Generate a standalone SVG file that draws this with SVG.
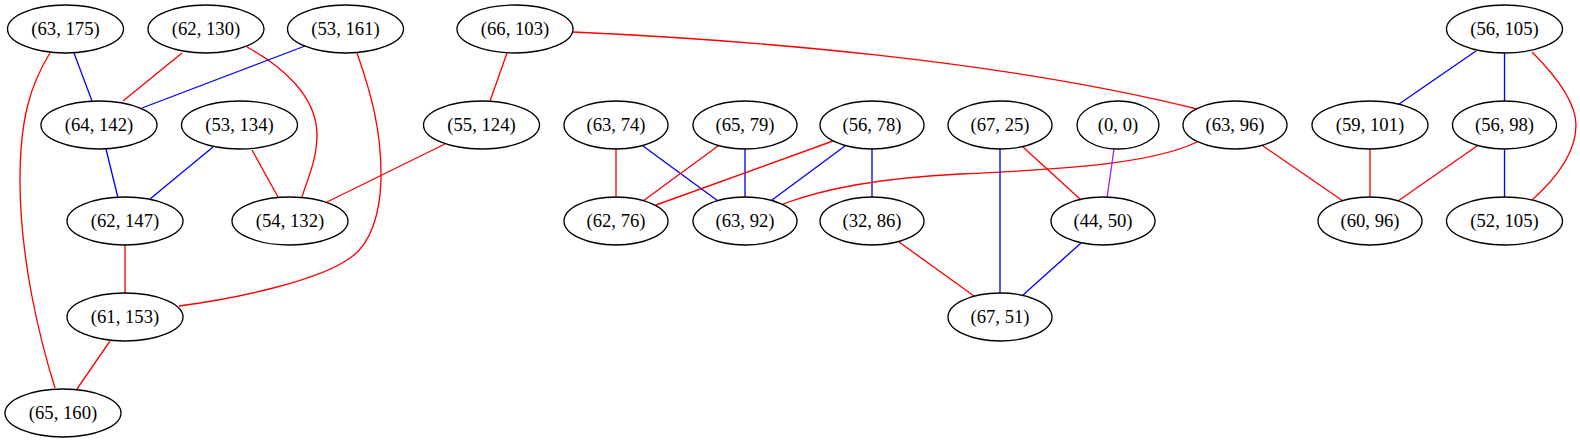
<svg xmlns="http://www.w3.org/2000/svg" width="1580" height="443" viewBox="0 0 1580 443">
<style>
.n ellipse{fill:none;stroke:#000;stroke-width:1.33}
.n text{font-family:"Liberation Serif","Times New Roman",serif;font-size:18.67px;text-anchor:middle;fill:#000}
#edges path{fill:none;stroke-width:1.33}
.r{stroke:#ff0000}.b{stroke:#0000ff}.p{stroke:#a020f0}
</style>
<rect width="1580" height="443" fill="#fff"/>
<g id="edges">
<path class="b" d="M74,53 L92,101"/>
<path class="r" d="M50,53 C30,85 20,120 20,180 C20,260 40,340 55,388"/>
<path class="r" d="M182,53 L123,101"/>
<path class="r" d="M247,47 C280,65 317,95 317,135 C317,160 307,180 302,197"/>
<path class="b" d="M305,46 L142,108"/>
<path class="r" d="M357,53 C370,90 382,130 381,180 C380,215 370,245 350,258 C320,280 240,298 179,306"/>
<path class="b" d="M106,149 L118,198"/>
<path class="b" d="M213,147 L150,199"/>
<path class="r" d="M252,150 L278,197"/>
<path class="r" d="M125,245 L125,293"/>
<path class="r" d="M110,341 L77,389"/>
<path class="r" d="M445,144 L327,202"/>
<path class="r" d="M507,53 L490,101"/>
<path class="r" d="M573,32 C750,40 1000,60 1197,109"/>
<path class="r" d="M616,149 L616,197"/>
<path class="b" d="M643,146 L718,201"/>
<path class="r" d="M718,146 L643,201"/>
<path class="b" d="M745,149 L745,197"/>
<path class="r" d="M833,141 L656,205"/>
<path class="b" d="M845,146 L772,200"/>
<path class="b" d="M872,149 L872,197"/>
<path class="r" d="M1197,142 C1150,165 1050,170 960,174 C880,178 820,190 783,204"/>
<path class="r" d="M899,242 L974,296"/>
<path class="b" d="M1000,149 L1000,293"/>
<path class="r" d="M1023,147 L1081,200"/>
<path class="p" d="M1114,149 L1107,198"/>
<path class="b" d="M1081,243 L1023,295"/>
<path class="r" d="M1263,146 L1343,201"/>
<path class="r" d="M1370,149 L1370,197"/>
<path class="r" d="M1477,146 L1398,201"/>
<path class="b" d="M1476,51 L1399,104"/>
<path class="b" d="M1504.5,53 L1504.5,101"/>
<path class="b" d="M1504.5,149 L1504.5,197"/>
<path class="r" d="M1532,52 C1560,80 1576,105 1576,125 C1576,150 1560,175 1532,200"/>
</g>
<g id="n63_175" class="n"><ellipse cx="65.5" cy="29" rx="58" ry="24"/><text x="65.5" y="35">(63, 175)</text></g>
<g id="n62_130" class="n"><ellipse cx="206" cy="29" rx="58" ry="24"/><text x="206" y="35">(62, 130)</text></g>
<g id="n53_161" class="n"><ellipse cx="345.5" cy="29" rx="58" ry="24"/><text x="345.5" y="35">(53, 161)</text></g>
<g id="n66_103" class="n"><ellipse cx="515" cy="29" rx="58" ry="24"/><text x="515" y="35">(66, 103)</text></g>
<g id="n56_105" class="n"><ellipse cx="1504.5" cy="29" rx="58" ry="24"/><text x="1504.5" y="35">(56, 105)</text></g>
<g id="n64_142" class="n"><ellipse cx="99" cy="125" rx="58" ry="24"/><text x="99" y="131">(64, 142)</text></g>
<g id="n53_134" class="n"><ellipse cx="239.5" cy="125" rx="58" ry="24"/><text x="239.5" y="131">(53, 134)</text></g>
<g id="n55_124" class="n"><ellipse cx="481.5" cy="125" rx="58" ry="24"/><text x="481.5" y="131">(55, 124)</text></g>
<g id="n63_74" class="n"><ellipse cx="616" cy="125" rx="52" ry="24"/><text x="616" y="131">(63, 74)</text></g>
<g id="n65_79" class="n"><ellipse cx="745" cy="125" rx="52" ry="24"/><text x="745" y="131">(65, 79)</text></g>
<g id="n56_78" class="n"><ellipse cx="872" cy="125" rx="52" ry="24"/><text x="872" y="131">(56, 78)</text></g>
<g id="n67_25" class="n"><ellipse cx="1000" cy="125" rx="52" ry="24"/><text x="1000" y="131">(67, 25)</text></g>
<g id="n0_0" class="n"><ellipse cx="1118" cy="125" rx="41" ry="24"/><text x="1118" y="131">(0, 0)</text></g>
<g id="n63_96" class="n"><ellipse cx="1235" cy="125" rx="52" ry="24"/><text x="1235" y="131">(63, 96)</text></g>
<g id="n59_101" class="n"><ellipse cx="1370" cy="125" rx="58" ry="24"/><text x="1370" y="131">(59, 101)</text></g>
<g id="n56_98" class="n"><ellipse cx="1504.5" cy="125" rx="52" ry="24"/><text x="1504.5" y="131">(56, 98)</text></g>
<g id="n62_147" class="n"><ellipse cx="125" cy="221" rx="58" ry="24"/><text x="125" y="227">(62, 147)</text></g>
<g id="n54_132" class="n"><ellipse cx="290" cy="221" rx="58" ry="24"/><text x="290" y="227">(54, 132)</text></g>
<g id="n62_76" class="n"><ellipse cx="616" cy="221" rx="52" ry="24"/><text x="616" y="227">(62, 76)</text></g>
<g id="n63_92" class="n"><ellipse cx="745" cy="221" rx="52" ry="24"/><text x="745" y="227">(63, 92)</text></g>
<g id="n32_86" class="n"><ellipse cx="872" cy="221" rx="52" ry="24"/><text x="872" y="227">(32, 86)</text></g>
<g id="n44_50" class="n"><ellipse cx="1103" cy="221" rx="52" ry="24"/><text x="1103" y="227">(44, 50)</text></g>
<g id="n60_96" class="n"><ellipse cx="1370" cy="221" rx="52" ry="24"/><text x="1370" y="227">(60, 96)</text></g>
<g id="n52_105" class="n"><ellipse cx="1504.5" cy="221" rx="58" ry="24"/><text x="1504.5" y="227">(52, 105)</text></g>
<g id="n61_153" class="n"><ellipse cx="125" cy="317" rx="58" ry="24"/><text x="125" y="323">(61, 153)</text></g>
<g id="n67_51" class="n"><ellipse cx="1000" cy="317" rx="52" ry="24"/><text x="1000" y="323">(67, 51)</text></g>
<g id="n65_160" class="n"><ellipse cx="63" cy="413" rx="58" ry="24"/><text x="63" y="419">(65, 160)</text></g>
</svg>
